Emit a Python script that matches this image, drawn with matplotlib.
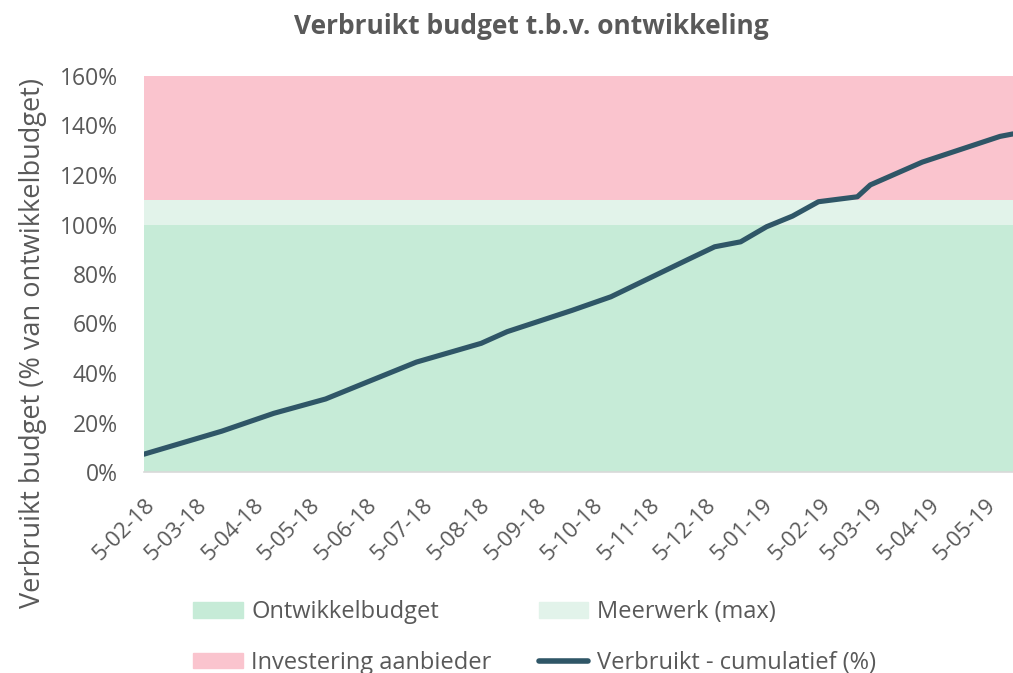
import matplotlib
matplotlib.use("Agg")
import matplotlib.pyplot as plt
import matplotlib.dates as mdates
from matplotlib.patches import Patch
from matplotlib.lines import Line2D
import numpy as np
import pandas as pd

plt.rcParams['font.family'] = ['Open Sans', 'DejaVu Sans']

# --- budget bands (% of development budget) ---
budget_pct = 100
extra_work_pct = 10
vendor_pct = 50

# --- cumulative spend ---
spend_dates = ["2018-02-05", "2018-03-19", "2018-04-16", "2018-05-14", "2018-06-04",
               "2018-07-02", "2018-08-06", "2018-08-20", "2018-09-24", "2018-10-15",
               "2018-11-26", "2018-12-10", "2018-12-24", "2019-01-07", "2019-01-21",
               "2019-02-04", "2019-02-25", "2019-03-04", "2019-04-01", "2019-05-13",
               "2019-05-20"]
spend_pct = [7.2, 16.5, 23.7, 29.5, 35.9,
             44.4, 52.0, 56.7, 65.3, 70.8,
             86.0, 91.0, 93.0, 99.1, 103.4,
             109.2, 111.2, 116.0, 125.2, 135.6,
             136.6]

# month ticks on the 5th
tick_dates = pd.date_range("2018-02-01", "2019-05-01", freq="MS") + pd.Timedelta(days=4)
x_start = pd.Timestamp("2018-02-05")
x_end = pd.Timestamp("2019-05-20")

GREEN = "#c6ebd7"
LIGHT_GREEN = "#e2f3ea"
PINK = "#fac4ce"
LINE = "#2f5667"
TEXT = "#595959"

dates = pd.to_datetime(spend_dates)
span = pd.to_datetime([x_start, x_end])

fig = plt.figure(figsize=(10.13, 6.73), dpi=100)
ax = fig.add_axes([144 / 1013, 1 - 472 / 673, 1 - 144 / 1013, 396 / 673])

ax.set_axisbelow(True)
ax.grid(axis="y", color="#d9d9d9", linewidth=1)
ax.fill_between(span, 0, budget_pct, color=GREEN, linewidth=0, zorder=2)
ax.fill_between(span, budget_pct, budget_pct + extra_work_pct, color=LIGHT_GREEN,
                linewidth=0, zorder=2)
ax.fill_between(span, budget_pct + extra_work_pct,
                budget_pct + extra_work_pct + vendor_pct, color=PINK, linewidth=0, zorder=2)
ax.plot(dates, spend_pct, color=LINE, linewidth=3.7, solid_capstyle="round",
        solid_joinstyle="round", zorder=3)

ax.set_xlim(x_start, x_end)
ax.set_ylim(0, 160)
ax.set_yticks(np.arange(0, 161, 20))
ax.set_yticklabels([f"{v}%" for v in range(0, 161, 20)])
ax.set_xticks(tick_dates)
ax.xaxis.set_major_formatter(mdates.DateFormatter("%-d-%m-%y"))
plt.setp(ax.get_xticklabels(), rotation=45, ha="right", rotation_mode="anchor")

for side in ["top", "right", "left"]:
    ax.spines[side].set_visible(False)
ax.spines["bottom"].set_color("#d9d9d9")
ax.spines["bottom"].set_linewidth(1.2)
ax.tick_params(axis="both", length=0, colors=TEXT)
ax.tick_params(axis="y", pad=19, labelsize=16.5)
ax.tick_params(axis="x", pad=16, labelsize=16)

ax.set_ylabel("Verbruikt budget (% van ontwikkelbudget)", fontsize=19.5, color=TEXT)
ax.yaxis.set_label_coords(-0.112, 0.325)

fig.text(531 / 1013, 1 - 27 / 673, "Verbruikt budget t.b.v. ontwikkeling",
         ha="center", va="center", fontsize=19, fontweight="bold", color=TEXT)

handles = [Patch(color=GREEN), Patch(color=PINK), Patch(color=LIGHT_GREEN),
           Line2D([], [], color=LINE, linewidth=4, solid_capstyle="round")]
labels = ["Ontwikkelbudget", "Investering aanbieder", "Meerwerk (max)",
          "Verbruikt - cumulatief (%)"]
leg = fig.legend(handles, labels, ncol=2, loc="upper left",
                 bbox_to_anchor=(172 / 1013, 1 - 579 / 673), frameon=False,
                 fontsize=17, handlelength=2.1, handleheight=0.64, handletextpad=0.35,
                 columnspacing=2.0, labelspacing=1.12)
for t in leg.get_texts():
    t.set_color(TEXT)

fig.savefig("out.png", dpi=100)
